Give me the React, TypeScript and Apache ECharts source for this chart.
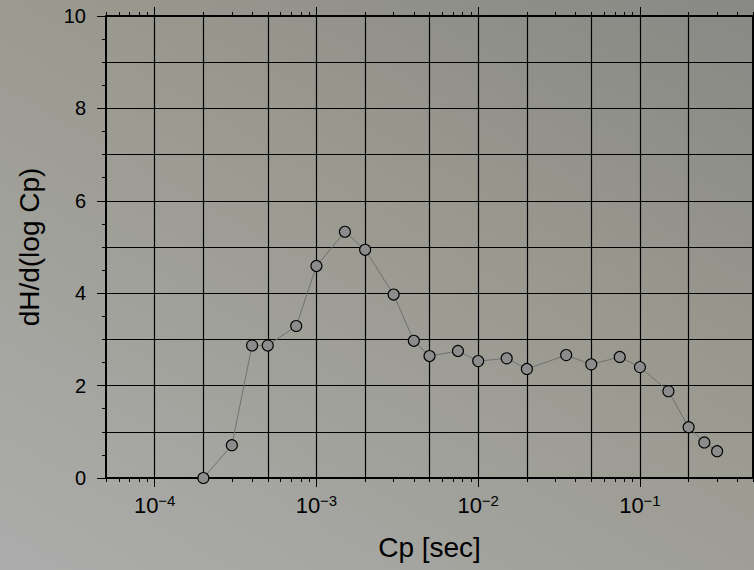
import React, { useEffect, useRef } from 'react';
import * as echarts from 'echarts';

// ---- data ----
const cpValues = [
  2e-4, 3e-4, 4e-4, 5e-4, 7.5e-4, 1e-3, 1.5e-3, 2e-3, 3e-3, 4e-3, 5e-3, 7.5e-3,
  1e-2, 1.5e-2, 2e-2, 3.5e-2, 5e-2, 7.5e-2, 0.1, 0.15, 0.2, 0.25, 0.3,
];
const dHValues = [
  0, 0.71, 2.87, 2.87, 3.29, 4.59, 5.33, 4.94, 3.97, 2.97, 2.64, 2.75,
  2.53, 2.59, 2.36, 2.66, 2.46, 2.62, 2.4, 1.88, 1.1, 0.77, 0.58,
];

// ---- axis ticks ----
const xMinorTicks = [
  5e-5, 6e-5, 7e-5, 8e-5, 9e-5,
  1e-4, 2e-4, 3e-4, 4e-4, 5e-4, 6e-4, 7e-4, 8e-4, 9e-4,
  1e-3, 2e-3, 3e-3, 4e-3, 5e-3, 6e-3, 7e-3, 8e-3, 9e-3,
  1e-2, 2e-2, 3e-2, 4e-2, 5e-2, 6e-2, 7e-2, 8e-2, 9e-2,
  1e-1, 2e-1, 3e-1, 4e-1, 5e-1,
];
const xMajorTicks = [1e-4, 1e-3, 1e-2, 1e-1];
const xGridValues = [1e-4, 2e-4, 5e-4, 1e-3, 2e-3, 5e-3, 1e-2, 2e-2, 5e-2, 1e-1, 2e-1];
const xMin = 5e-5;
const xMax = 0.5;
const yMin = 0;
const yMax = 10;
const yLabelStep = 2;
const yGridStep = 1;
const yMinorStep = 0.5;

const xTitle = 'Cp [sec]';
const yTitle = 'dH/d(log Cp)';

const FONT = '"Liberation Sans", Arial, Helvetica, sans-serif';

export default function App() {
  const ref = useRef<HTMLDivElement>(null);

  useEffect(() => {
    if (!ref.current) return;
    const chart = echarts.init(ref.current, undefined, { renderer: 'svg' });

    const baseX = {
      type: 'log' as const,
      logBase: 10,
      min: xMin,
      max: xMax,
      gridIndex: 0,
    };
    const baseY = {
      type: 'value' as const,
      min: yMin,
      max: yMax,
      gridIndex: 0,
    };
    const noLabel = { show: false };
    const noLine = { show: false, onZero: false };
    const noSplit = { show: false };
    const axisLineStyle = { show: true, onZero: false, lineStyle: { color: '#000', width: 2 } };

    const labelFormatter = (v: number) => {
      const e = Math.round(Math.log10(v));
      if (Math.abs(Math.log10(v) - e) > 1e-6) return '';
      return `{b|10}{s|\u2212${Math.abs(e)}}`;
    };

    chart.setOption({
      animation: false,
      backgroundColor: 'transparent',
      textStyle: { fontFamily: FONT },
      grid: { left: 106, right: 1, top: 16, bottom: 92, containLabel: false },
      xAxis: [
        {
          ...baseX,
          position: 'bottom',
          axisLine: axisLineStyle,
          axisTick: { show: true, customValues: xMinorTicks, length: 4, lineStyle: { color: '#000', width: 1 } },
          axisLabel: {
            show: true,
            customValues: xMajorTicks,
            margin: 15,
            fontSize: 22,
            color: '#000',
            fontFamily: FONT,
            formatter: labelFormatter,
            rich: {
              b: { fontSize: 22, fontFamily: FONT, color: '#000', lineHeight: 24 },
              s: { fontSize: 15, fontFamily: FONT, color: '#000', verticalAlign: 'top', lineHeight: 15 },
            },
          },
          splitLine: noSplit,
        },
        {
          ...baseX,
          position: 'bottom',
          axisLine: noLine,
          axisTick: { show: true, customValues: xMajorTicks, length: 9, lineStyle: { color: '#000', width: 1 } },
          axisLabel: noLabel,
          splitLine: noSplit,
        },
        {
          ...baseX,
          position: 'top',
          axisLine: axisLineStyle,
          axisTick: { show: true, customValues: xMinorTicks, length: 4, lineStyle: { color: '#000', width: 1 } },
          axisLabel: noLabel,
          splitLine: noSplit,
        },
        {
          ...baseX,
          position: 'top',
          axisLine: noLine,
          axisTick: { show: true, customValues: xMajorTicks, length: 9, lineStyle: { color: '#000', width: 1 } },
          axisLabel: noLabel,
          splitLine: noSplit,
        },
        {
          ...baseX,
          position: 'bottom',
          axisLine: noLine,
          axisTick: { show: false, customValues: xGridValues },
          axisLabel: noLabel,
          splitLine: { show: true, lineStyle: { color: '#000', width: 1.2 } },
        },
      ],
      yAxis: [
        {
          ...baseY,
          position: 'left',
          interval: yLabelStep,
          axisLine: axisLineStyle,
          axisTick: { show: true, length: 9, lineStyle: { color: '#000', width: 1 } },
          axisLabel: { show: true, margin: 20, fontSize: 20, color: '#000', fontFamily: FONT },
          splitLine: noSplit,
        },
        {
          ...baseY,
          position: 'left',
          interval: yMinorStep,
          axisLine: noLine,
          axisTick: { show: true, length: 4, lineStyle: { color: '#000', width: 1 } },
          axisLabel: noLabel,
          splitLine: noSplit,
        },
        {
          ...baseY,
          position: 'left',
          interval: yGridStep,
          axisLine: noLine,
          axisTick: { show: false },
          axisLabel: noLabel,
          splitLine: { show: true, lineStyle: { color: '#000', width: 1.2 } },
        },
        {
          ...baseY,
          position: 'right',
          axisLine: axisLineStyle,
          axisTick: { show: false },
          axisLabel: noLabel,
          splitLine: noSplit,
        },
      ],
      series: [
        {
          type: 'line',
          xAxisIndex: 0,
          yAxisIndex: 0,
          data: cpValues.map((c, i) => [c, dHValues[i]]),
          symbol: 'circle',
          symbolSize: 11,
          showSymbol: true,
          lineStyle: { color: '#707070', width: 1 },
          itemStyle: { color: '#8c8c8c', borderColor: '#000', borderWidth: 1.1 },
          z: 10,
        },
      ],
      graphic: [
        {
          type: 'text',
          x: 429.5,
          y: 547,
          style: {
            text: xTitle,
            font: `28px ${FONT}`,
            fill: '#000',
            textAlign: 'center',
            textVerticalAlign: 'middle',
          },
        },
        {
          type: 'text',
          x: 29,
          y: 247,
          rotation: Math.PI / 2,
          style: {
            text: yTitle,
            font: `28px ${FONT}`,
            fill: '#000',
            textAlign: 'center',
            textVerticalAlign: 'middle',
          },
        },
      ],
    });

    return () => {
      chart.dispose();
    };
  }, []);

  return (
    <div
      style={{
        position: 'fixed',
        left: 0,
        top: 0,
        width: 754,
        height: 570,
        background: 'linear-gradient(210deg, #888885 0%, #99998f 40%, #acacac 100%)',
      }}
    >
      <div ref={ref} style={{ width: 754, height: 570 }} />
    </div>
  );
}
